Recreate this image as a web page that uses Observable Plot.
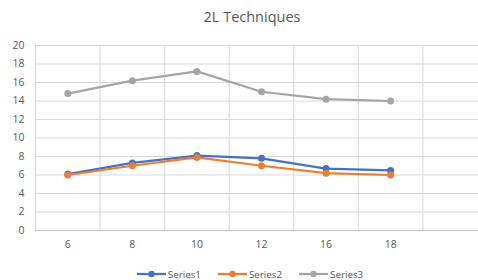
<!DOCTYPE html>
<html><head><meta charset="utf-8">
<script src="https://cdn.jsdelivr.net/npm/d3@7"></script>
<script src="https://cdn.jsdelivr.net/npm/@observablehq/plot@0.6"></script>
<style>
body{margin:0;background:#fff;font-family:"Open Sans",sans-serif;}
#wrap{width:478px;height:280px;overflow:hidden;position:relative;background:#fff}
#title{height:34px;line-height:34px;text-align:center;font-size:14.5px;color:#595959;padding-left:26px;box-sizing:border-box;width:478px}
#legend{display:flex;justify-content:center;align-items:center;gap:17px;height:14px;margin-top:8px;padding-left:22px;box-sizing:border-box;width:478px;font-size:9.8px;color:#595959}
.item{display:flex;align-items:center;gap:2px}
</style>
</head><body>
<div id="wrap">
<div id="title">2L Techniques</div>
<div id="chart"></div>
<div id="legend"></div>
</div>
<script>
const categories = ["6", "8", "10", "12", "16", "18"];
const seriesNames = ["Series1", "Series2", "Series3"];
const series1 = [6.1, 7.3, 8.1, 7.8, 6.7, 6.5];
const series2 = [6.0, 7.0, 7.9, 7.0, 6.2, 6.0];
const series3 = [14.8, 16.2, 17.2, 15.0, 14.2, 14.0];
const yTicks = [0, 2, 4, 6, 8, 10, 12, 14, 16, 18, 20];
const colors = ["#4472C4", "#ED7D31", "#A5A5A5"];

const slots = categories.length + 1; // one empty category slot at the end
const allSeries = [series1, series2, series3];
const data = [];
allSeries.forEach((vals, s) => vals.forEach((v, i) => data.push({series: seriesNames[s], idx: i, value: v})));
const boundaries = d3.range(slots + 1).map(i => i - 0.5);

const marks = [
  Plot.ruleY(yTicks.slice(1), {stroke: "#D9D9D9", strokeWidth: 1}),
  Plot.ruleX(boundaries, {y1: 0, y2: 20, stroke: "#D9D9D9", strokeWidth: 1}),
  Plot.ruleY([0], {stroke: "#BFBFBF", strokeWidth: 1}),
  Plot.axisY(yTicks, {tickSize: 0, tickPadding: 11, fill: "#595959", fontSize: 10.5, label: null}),
  Plot.axisX(d3.range(categories.length), {tickSize: 0, tickPadding: 10, fill: "#595959", fontSize: 10.5, label: null, tickFormat: i => categories[i]})
];
seriesNames.forEach((name, s) => {
  const sub = data.filter(d => d.series === name);
  marks.push(Plot.line(sub, {x: "idx", y: "value", stroke: colors[s], strokeWidth: 2.25}));
  marks.push(Plot.dot(sub, {x: "idx", y: "value", fill: colors[s], r: 3.5, stroke: "none"}));
});

const chart = Plot.plot({
  width: 478,
  height: 225,
  marginTop: 11,
  marginBottom: 29,
  marginLeft: 35,
  marginRight: 0,
  style: {fontFamily: "Open Sans", fontSize: "10.5px", background: "white"},
  x: {type: "linear", domain: [-0.5, slots - 0.5], range: [35, 487], axis: null, label: null},
  y: {domain: [0, 20], axis: null, label: null},
  marks
});
document.getElementById("chart").appendChild(chart);

const legend = document.getElementById("legend");
seriesNames.forEach((name, s) => {
  const it = document.createElement("div");
  it.className = "item";
  it.innerHTML = `<svg width="29" height="8"><line x1="0" x2="29" y1="4" y2="4" stroke="${colors[s]}" stroke-width="2.25"/><circle cx="14.5" cy="4" r="3.2" fill="${colors[s]}"/></svg><span>${name}</span>`;
  legend.appendChild(it);
});
</script>
</body></html>
